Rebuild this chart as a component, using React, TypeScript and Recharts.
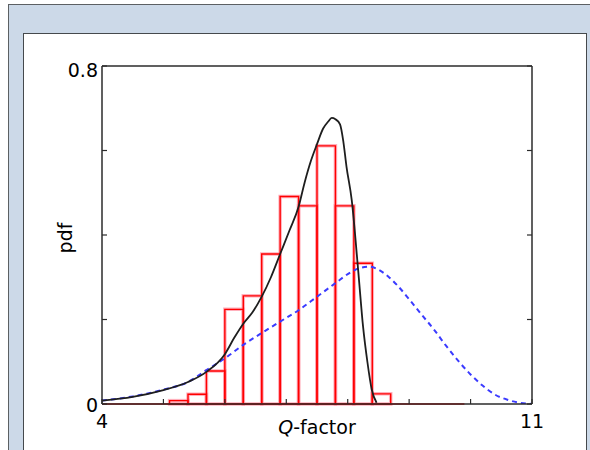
import React from "react";
import { ComposedChart, Line, XAxis, YAxis, ReferenceArea, ReferenceLine, Label } from "recharts";

// histogram of Q-factor (bin edges and heights)
const binEdges = [5.1, 5.4, 5.7, 6.0, 6.3, 6.6, 6.9, 7.2, 7.5, 7.8, 8.1, 8.4, 8.7];
const binHeights = [0.008, 0.023, 0.078, 0.224, 0.256, 0.355, 0.491, 0.469, 0.611, 0.469, 0.333, 0.024];

// smoothed empirical pdf (black)
const kdeQ = [4.0, 4.5, 5.0, 5.4, 5.7, 6.0, 6.15, 6.3, 6.45, 6.6, 6.75, 6.9, 7.05, 7.2, 7.3, 7.4, 7.5, 7.6, 7.68, 7.74, 7.8, 7.875, 7.93, 7.98, 8.065, 8.17, 8.25, 8.32, 8.39, 8.47];
const kdePdf = [0.008, 0.017, 0.033, 0.052, 0.076, 0.118, 0.156, 0.19, 0.217, 0.254, 0.3, 0.355, 0.41, 0.467, 0.525, 0.575, 0.615, 0.652, 0.668, 0.677, 0.674, 0.662, 0.62, 0.562, 0.483, 0.317, 0.183, 0.1, 0.035, 0.003];

// gaussian fit (blue dashed)
const fitQ = [4.0, 4.5, 5.0, 5.4, 5.7, 6.0, 6.3, 6.6, 6.9, 7.2, 7.5, 7.8, 8.05, 8.2, 8.35, 8.5, 8.65, 8.8, 9.0, 9.2, 9.4, 9.6, 9.8, 10.0, 10.2, 10.4, 10.6, 10.8, 11.0];
const fitPdf = [0.008, 0.018, 0.034, 0.052, 0.08, 0.108, 0.14, 0.168, 0.195, 0.222, 0.254, 0.286, 0.312, 0.322, 0.325, 0.318, 0.303, 0.282, 0.248, 0.212, 0.177, 0.138, 0.102, 0.07, 0.043, 0.022, 0.01, 0.003, 0];

const xTicks = [4, 5, 6, 7, 8, 9, 10, 11];
const yTicks = [0, 0.2, 0.4, 0.6, 0.8];

const kdeData = kdeQ.map((q, i) => ({ q, pdf: kdePdf[i] }));
const fitData = fitQ.map((q, i) => ({ q, pdf: fitPdf[i] }));

const font = "DejaVu Sans";
const axisColor = "#2b2b2b";
const tickStyle = { fill: "#000", fontSize: 19, fontFamily: font };

function LeftTick(props: any) {
  const v = props.payload.value;
  const label = v === 0 ? "0" : v === 0.8 ? "0.8" : "";
  if (!label) return null;
  return (
    <text x={props.x} y={props.y + (v === 0.8 ? 4 : 1)} textAnchor="end" dominantBaseline="central" {...tickStyle}>
      {label}
    </text>
  );
}

export default function App() {
  return (
    <div style={{ position: "fixed", left: 0, top: 0, width: 590, height: 450, overflow: "hidden", background: "#fff" }}>
      <div
        style={{
          position: "absolute",
          left: 8,
          top: 4,
          width: 600,
          height: 460,
          background: "#ccd9e8",
          borderTop: "1.5px solid #5c6063",
          borderLeft: "1.5px solid #5c6063",
        }}
      />
      <div
        style={{
          position: "absolute",
          left: 23,
          top: 33,
          width: 562,
          height: 430,
          background: "#fff",
          border: "1px solid #45494c",
        }}
      />
      <div style={{ position: "absolute", left: 0, top: 0 }}>
        <ComposedChart width={590} height={450} margin={{ top: 65, right: 57, bottom: 16, left: 62 }}>
          <XAxis
            xAxisId="b"
            type="number"
            dataKey="q"
            domain={[4, 11]}
            ticks={xTicks}
            height={30}
            tickSize={-5}
            tickMargin={16}
            tick={tickStyle}
            tickFormatter={(v) => (v === 4 || v === 11 ? String(v) : "")}
            axisLine={{ stroke: axisColor, strokeWidth: 1.5 }}
            tickLine={{ stroke: axisColor, strokeWidth: 1.2 }}
            interval={0}
            allowDataOverflow
          >
            <Label
              content={(props: any) => {
                const vb = props.viewBox;
                return (
                  <text x={vb.x + vb.width / 2} y={vb.y + vb.height} textAnchor="middle" fontFamily={font} fontSize={19} fill="#000">
                    <tspan fontStyle="italic">Q</tspan>-factor
                  </text>
                );
              }}
            />
          </XAxis>
          <XAxis
            xAxisId="t"
            orientation="top"
            type="number"
            domain={[4, 11]}
            ticks={xTicks}
            height={1}
            tickSize={-5}
            tickFormatter={() => ""}
            axisLine={{ stroke: axisColor, strokeWidth: 1.5 }}
            tickLine={{ stroke: axisColor, strokeWidth: 1.2 }}
            interval={0}
            allowDataOverflow
          />
          <YAxis
            yAxisId="l"
            type="number"
            domain={[0, 0.8]}
            ticks={yTicks}
            width={40}
            tickSize={-5}
            tickMargin={9}
            tick={<LeftTick />}
            axisLine={{ stroke: axisColor, strokeWidth: 1.5 }}
            tickLine={{ stroke: axisColor, strokeWidth: 1.2 }}
            interval={0}
            allowDataOverflow
          >
            <Label
              content={(props: any) => {
                const vb = props.viewBox;
                const cx = vb.x + 3;
                const cy = vb.y + vb.height / 2 + 3;
                return (
                  <text
                    x={cx}
                    y={cy}
                    transform={`rotate(-90, ${cx}, ${cy})`}
                    textAnchor="middle"
                    dominantBaseline="central"
                    fontFamily={font}
                    fontSize={19}
                    fill="#000"
                  >
                    pdf
                  </text>
                );
              }}
            />
          </YAxis>
          <YAxis
            yAxisId="r"
            orientation="right"
            type="number"
            domain={[0, 0.8]}
            ticks={yTicks}
            width={1}
            tickSize={-5}
            tickFormatter={() => ""}
            axisLine={{ stroke: axisColor, strokeWidth: 1.5 }}
            tickLine={{ stroke: axisColor, strokeWidth: 1.2 }}
            interval={0}
            allowDataOverflow
          />

          <ReferenceLine
            xAxisId="b"
            yAxisId="l"
            segment={[{ x: 4, y: 0 }, { x: 9.9, y: 0 }]}
            stroke="#ff0000"
            strokeWidth={1.5}
            ifOverflow="visible"
          />
          {binHeights.map((h, i) => (
            <ReferenceArea
              key={"p" + i}
              xAxisId="b"
              yAxisId="l"
              x1={binEdges[i]}
              x2={binEdges[i + 1]}
              y1={0}
              y2={h}
              fill="none"
              fillOpacity={0}
              stroke="#ff8fa0"
              strokeOpacity={0.7}
              strokeWidth={3.5}
              ifOverflow="visible"
            />
          ))}
          {binHeights.map((h, i) => (
            <ReferenceArea
              key={"r" + i}
              xAxisId="b"
              yAxisId="l"
              x1={binEdges[i]}
              x2={binEdges[i + 1]}
              y1={0}
              y2={h}
              fill="none"
              fillOpacity={0}
              stroke="#ff0000"
              strokeWidth={1.4}
              ifOverflow="visible"
            />
          ))}

          <Line
            xAxisId="b"
            yAxisId="l"
            data={fitData}
            dataKey="pdf"
            type="monotone"
            stroke="#3b3bff"
            strokeWidth={2}
            strokeDasharray="5 4"
            dot={false}
            activeDot={false}
            isAnimationActive={false}
          />
          <Line
            xAxisId="b"
            yAxisId="l"
            data={kdeData}
            dataKey="pdf"
            type="monotone"
            stroke="#1e1e1e"
            strokeWidth={1.8}
            dot={false}
            activeDot={false}
            isAnimationActive={false}
          />
        </ComposedChart>
      </div>
    </div>
  );
}
